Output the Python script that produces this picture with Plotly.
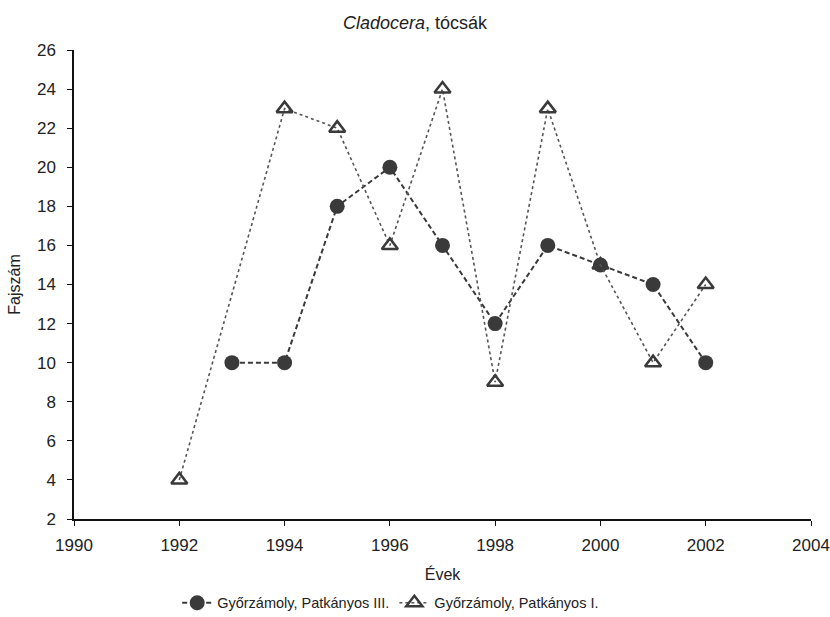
import plotly.graph_objects as go

# Species counts per year at two sites
years_iii = [1993, 1994, 1995, 1996, 1997, 1998, 1999, 2000, 2001, 2002]
species_iii = [10, 10, 18, 20, 16, 12, 16, 15, 14, 10]

years_i = [1992, 1994, 1995, 1996, 1997, 1998, 1999, 2000, 2001, 2002]
species_i = [4, 23, 22, 16, 24, 9, 23, 15, 10, 14]

x_ticks = list(range(1990, 2005, 2))
y_ticks = list(range(2, 27, 2))

FONT = "Liberation Sans, Arial, sans-serif"
INK = "#3a3a3a"
TEXT = "#222222"

fig = go.Figure()
fig.add_trace(go.Scatter(
    x=years_iii, y=species_iii, mode="lines+markers",
    name="Győrzámoly, Patkányos III.",
    line=dict(color=INK, width=2, dash="5px,3px"),
    marker=dict(symbol="circle", size=15, color=INK),
))
fig.add_trace(go.Scatter(
    x=years_i, y=species_i, mode="lines+markers",
    name="Győrzámoly, Patkányos I.",
    line=dict(color="#555555", width=1.6, dash="dot"),
    marker=dict(symbol="triangle-up-open", size=14, color=INK,
                line=dict(width=2.5, color=INK)),
))

fig.update_layout(
    width=830, height=617,
    margin=dict(l=74, r=19, t=50, b=98, autoexpand=False),
    paper_bgcolor="white", plot_bgcolor="white",
    font=dict(family=FONT, size=16, color=TEXT),
    title=dict(text="<i>Cladocera</i>, tócsák", x=0.5, xanchor="center",
               y=0.963, yanchor="middle", font=dict(size=18, color=TEXT)),
    showlegend=True,
    legend=dict(orientation="h", x=0.14, xanchor="left",
                yref="container", y=0.023, yanchor="middle",
                font=dict(size=14.5, color=TEXT),
                itemwidth=30, tracegroupgap=0),
    xaxis=dict(range=[1990, 2004], tickvals=x_ticks, showgrid=False,
               zeroline=False, showline=True, linecolor="#111111", linewidth=1.5,
               ticks="outside", ticklen=5, tickcolor="#111111",
               ticklabelstandoff=5,
               tickfont=dict(size=17, color=TEXT),
               title=dict(text="Évek", standoff=15, font=dict(size=16, color=TEXT))),
    yaxis=dict(range=[2, 26], tickvals=y_ticks, showgrid=False,
               zeroline=False, showline=True, linecolor="#111111", linewidth=1.5,
               ticks="outside", ticklen=5, tickcolor="#111111",
               ticklabelstandoff=8,
               tickfont=dict(size=17, color=TEXT),
               title=dict(text="Fajszám", standoff=12, font=dict(size=16, color=TEXT))),
)

fig.write_html("out.html")
